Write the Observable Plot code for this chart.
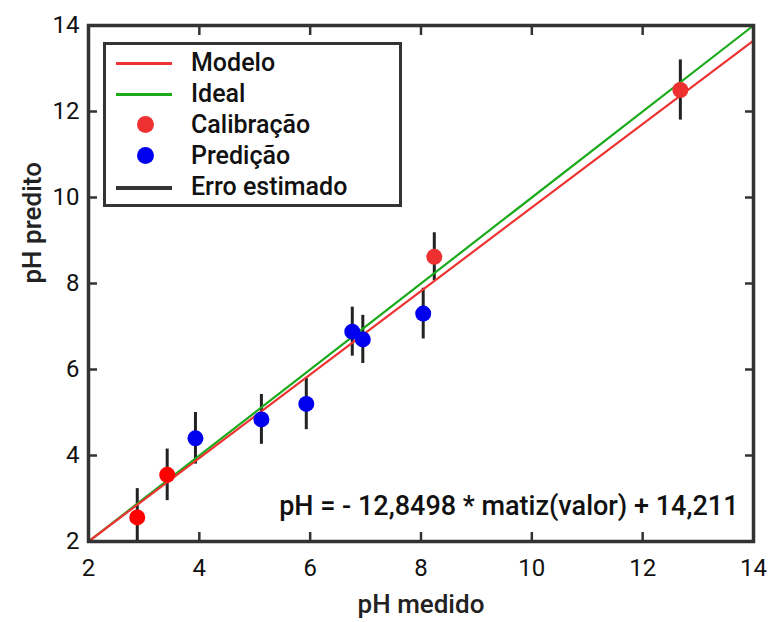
<!DOCTYPE html>
<html><head><meta charset="utf-8">
<script src="https://cdn.jsdelivr.net/npm/d3@7"></script>
<script src="https://cdn.jsdelivr.net/npm/@observablehq/plot@0.6"></script>
<style>
body{margin:0;background:#fff;font-family:Roboto,sans-serif}
#wrap{position:relative;width:781px;height:622px}
#legend{position:absolute;left:103px;top:42px;width:293px;height:159px;border:3px solid #333;background:#fff;font-family:Roboto,sans-serif;font-size:25px;font-weight:500;color:#111}
.row{position:absolute;left:0;height:30px;width:100%}
.sw{position:absolute;left:10px;width:56px;top:14px;height:3px}
.dot{position:absolute;left:31px;top:6px;width:17px;height:17px;border-radius:50%}
.lab{position:absolute;left:85px;top:0;line-height:30px}
</style></head>
<body><div id="wrap"><div id="chart"></div>
<div id="legend"></div></div>
<script>
const xTicks = [2,4,6,8,10,12,14];
const yTicks = [2,4,6,8,10,12,14];
const calX = [2.88, 3.42, 8.24, 12.68];
const calY = [2.56, 3.55, 8.62, 12.5];
const calErr = [0.67, 0.6, 0.56, 0.7];
const calColor = ["#f00", "#f00", "#ee3030", "#ee3030"];
const predX = [3.93, 5.12, 5.93, 6.76, 6.95, 8.04];
const predY = [4.4, 4.84, 5.2, 6.88, 6.7, 7.3];
const predErr = [0.6, 0.58, 0.6, 0.57, 0.56, 0.59];
const modelX = [2, 14];
const modelY = [2, 13.65];
const idealX = [2, 14];
const idealY = [2, 14];
const equation = "pH = - 12,8498 * matiz(valor) + 14,211";
const legendLabels = ["Modelo","Ideal","Calibração","Predição","Erro estimado"];

const cal = calX.map((x,i)=>({x, y: calY[i], e: calErr[i], c: calColor[i]}));
const pred = predX.map((x,i)=>({x, y: predY[i], e: predErr[i]}));
const model = modelX.map((x,i)=>({x, y: modelY[i]}));
const ideal = idealX.map((x,i)=>({x, y: idealY[i]}));
const all = cal.concat(pred);

const chart = Plot.plot({
  width: 781, height: 622,
  marginLeft: 88, marginRight: 28, marginTop: 25, marginBottom: 81,
  style: {fontFamily: "Roboto, sans-serif", fontSize: "24px", color: "#111", background: "#fff"},
  x: {domain: [2,14]},
  y: {domain: [2,14]},
  marks: [
    Plot.ruleX(all, {x: "x", y1: d=>d.y-d.e, y2: d=>d.y+d.e, stroke: "#222", strokeWidth: 3, clip: true}),
    Plot.line(ideal, {x: "x", y: "y", stroke: "#1aaa1a", strokeWidth: 2.2}),
    Plot.line(model, {x: "x", y: "y", stroke: "#ee3333", strokeWidth: 2.2}),
    Plot.dot(cal, {x: "x", y: "y", r: 8, fill: "c"}),
    Plot.dot(pred, {x: "x", y: "y", r: 8, fill: "#0000ee"}),
    Plot.axisX(xTicks, {anchor: "bottom", tickSize: 0, tickPadding: 17, label: null, fontSize: 24}),
    Plot.axisY(yTicks, {anchor: "left", tickSize: 0, tickPadding: 9, label: null, fontSize: 24}),
    Plot.axisX(xTicks, {anchor: "bottom", tickSize: -9, text: null, label: null, strokeWidth: 2.5, stroke: "#333"}),
    Plot.axisX(xTicks, {anchor: "top", tickSize: -9, text: null, label: null, strokeWidth: 2.5, stroke: "#333"}),
    Plot.axisY(yTicks, {anchor: "left", tickSize: -9, text: null, label: null, strokeWidth: 2.5, stroke: "#333"}),
    Plot.axisY(yTicks, {anchor: "right", tickSize: -9, text: null, label: null, strokeWidth: 2.5, stroke: "#333"}),
    Plot.frame({stroke: "#333", strokeWidth: 3.5}),
    Plot.text([equation], {frameAnchor: "bottom-right", dx: -15, dy: -27, textAnchor: "end", fontSize: 27, fontWeight: 500, fill: "#111"}),
    Plot.text(["pH medido"], {frameAnchor: "bottom", dy: 71, fontSize: 26, fontWeight: 500, fill: "#222"}),
    Plot.text(["pH predito"], {frameAnchor: "left", dx: -56, rotate: -90, fontSize: 26, fontWeight: 500, fill: "#222"})
  ]
});
document.getElementById("chart").append(chart);

const swatches = [
  {type: "line", color: "#ee3333"},
  {type: "line", color: "#1aaa1a"},
  {type: "dot", color: "#ee3030"},
  {type: "dot", color: "#0000ee"},
  {type: "line", color: "#333"}
];
const leg = document.getElementById("legend");
legendLabels.forEach((t,i)=>{
  const row = document.createElement("div");
  row.className = "row";
  row.style.top = (3 + i*31) + "px";
  const s = document.createElement("div");
  s.className = swatches[i].type === "line" ? "sw" : "dot";
  s.style.background = swatches[i].color;
  if (i === 4) s.style.height = "4px";
  row.append(s);
  const l = document.createElement("div");
  l.className = "lab"; l.textContent = t;
  row.append(l);
  leg.append(row);
});
</script></body></html>
